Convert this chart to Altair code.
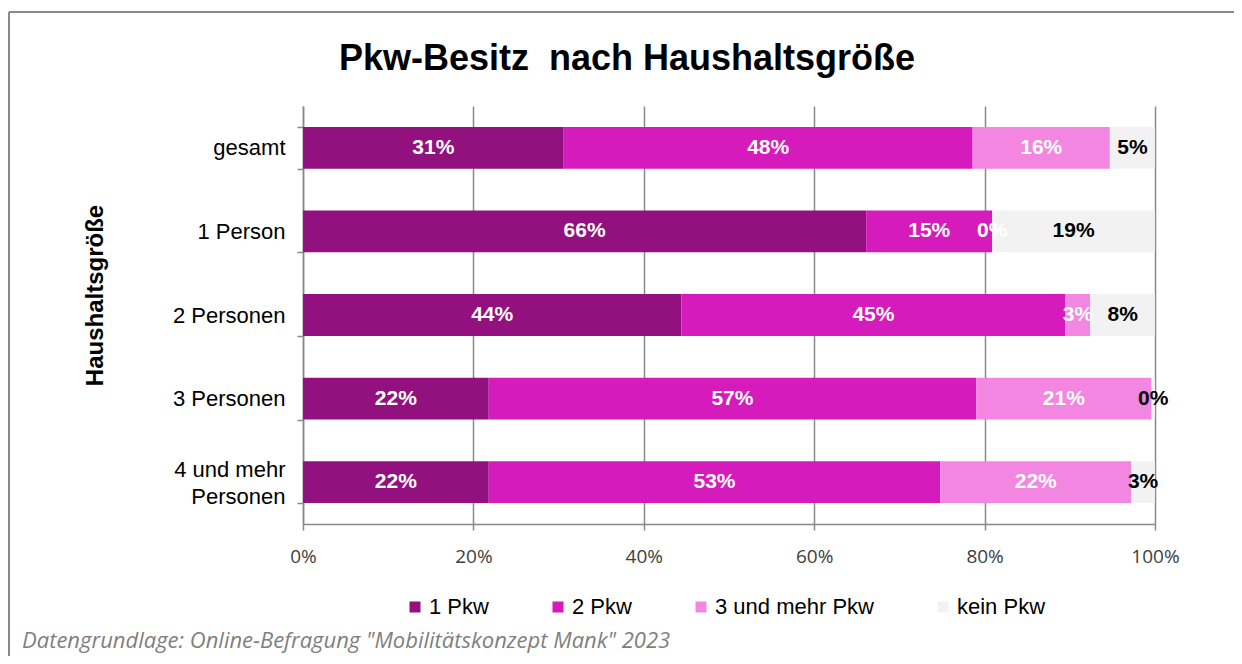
import altair as alt
import pandas as pd

categories = ["gesamt", "1 Person", "2 Personen", "3 Personen", "4 und mehr Personen"]
series = ["1 Pkw", "2 Pkw", "3 und mehr Pkw", "kein Pkw"]
pkw1 = [30.6, 66.1, 44.4, 21.8, 21.8]
pkw2 = [48.0, 14.8, 45.1, 57.2, 53.0]
pkw3 = [16.1, 0.0, 2.9, 20.6, 22.4]
kein = [5.3, 19.1, 7.6, 0.4, 2.8]
colors = ["#93117E", "#D51BBB", "#F286E0", "#F2F2F2"]
x_ticks = [0, 0.2, 0.4, 0.6, 0.8, 1.0]
title_text = "Pkw-Besitz\u00a0 nach Haushaltsgröße"
footer_text = ["Datengrundlage: Online-Befragung \"Mobilitätskonzept Mank\" 2023"]

FONT = "Liberation Sans"
GRAY = "#898989"

rows = []
for i, c in enumerate(categories):
    for j, (s, vals) in enumerate(zip(series, [pkw1, pkw2, pkw3, kein])):
        rows.append({"cat": c, "series": s, "order": j, "value": vals[i] / 100})
df = pd.DataFrame(rows)

base = alt.Chart(df).transform_stack(
    stack="value", groupby=["cat"], sort=[alt.SortField("order")], as_=["v0", "v1"]
).transform_calculate(mid="(datum.v0 + datum.v1) / 2")

y_enc = alt.Y(
    "cat:N",
    sort=categories,
    title="Haushaltsgröße",
    scale=alt.Scale(paddingInner=0.5, paddingOuter=0.25),
    axis=alt.Axis(
        labelExpr="datum.label == '4 und mehr Personen' ? ['4 und mehr', 'Personen'] : datum.label",
        labelOffset={"condition": {"test": "datum.value === '4 und mehr Personen'", "value": -13}, "value": 0},
        labelFont=FONT, labelFontSize=22, labelColor="#000000", labelPadding=12,
        labelLineHeight=27, labelLimit=300,
        tickBand="extent", tickSize=6, tickColor=GRAY, tickWidth=1.5,
        domainColor=GRAY, domainWidth=1.5,
        titleFont=FONT, titleFontSize=24, titleFontWeight="bold", titleColor="#000000",
        titleX=-208, titleY=189, titleAngle=-90, titleBaseline="middle", titleAlign="center",
    ),
)

bars = base.mark_bar().encode(
    x=alt.X(
        "v0:Q", title=None, scale=alt.Scale(domain=[0, 1], nice=False),
        axis=alt.Axis(
            values=x_ticks, format=".0%", labelFont="Open Sans", labelFontSize=19,
            labelColor="#404040", labelPadding=17, labelFlush=False,
            tickSize=6, tickColor=GRAY, tickWidth=1.5,
            domainColor=GRAY, domainWidth=1.5,
            grid=True, gridColor=GRAY, gridWidth=1.5,
        ),
    ),
    x2="v1:Q",
    y=y_enc,
    color=alt.Color(
        "series:N", sort=series, scale=alt.Scale(domain=series, range=colors),
        legend=alt.Legend(
            orient="none", legendX=101, legendY=490, direction="horizontal", title=None,
            symbolType="square", symbolSize=121, symbolStrokeWidth=0,
            labelFont=FONT, labelFontSize=22, labelColor="#000000",
            columnPadding=58, labelOffset=3,
        ),
    ),
    order=alt.Order("order:Q"),
)

labels = base.mark_text(font=FONT, fontSize=21, fontWeight="bold").encode(
    x=alt.X("mid:Q", title=None),
    y=alt.Y("cat:N", sort=categories),
    text=alt.Text("value:Q", format=".0%"),
    color=alt.condition(alt.datum.series == "kein Pkw", alt.value("#000000"), alt.value("#FFFFFF")),
)

one = pd.DataFrame({"k": [0]})
frame_top = alt.Chart(one).mark_rule(color=GRAY, strokeWidth=2).encode(
    x=alt.value(-294), x2=alt.value(940), y=alt.value(-94)
)
frame_left = alt.Chart(one).mark_rule(color=GRAY, strokeWidth=2).encode(
    x=alt.value(-294), y=alt.value(-94), y2=alt.value(560)
)
footer = alt.Chart(pd.DataFrame({"t": footer_text})).mark_text(
    align="left", baseline="middle", font="Open Sans", fontStyle="italic",
    fontSize=22, color="#7F7F7F",
).encode(x=alt.value(22 - 303), y=alt.value(535), text="t:N")

chart = alt.layer(bars, labels, frame_top, frame_left, footer).properties(
    width=852,
    height=418,
    autosize=alt.AutoSizeParams(type="none"),
    padding={"left": 295, "top": 98, "right": 79, "bottom": 132},
    title=alt.Title(
        title_text, font=FONT, fontSize=36, fontWeight="bold", color="#000000",
        anchor="middle", dx=-102, offset=-95, baseline="alphabetic",
    ),
).configure_view(stroke=None)

chart.save("out.html", embed_options={"renderer": "svg", "actions": False})
